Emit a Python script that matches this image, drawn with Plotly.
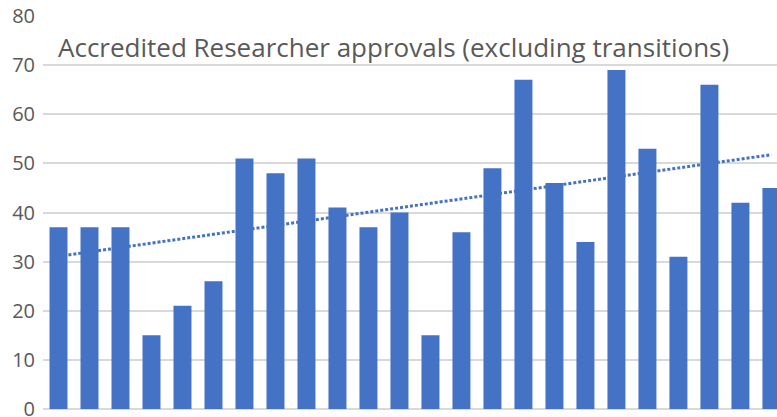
import numpy as np
import plotly.graph_objects as go

categories = [f"P{i}" for i in range(1, 25)]
approvals = [37, 37, 37, 15, 21, 26, 51, 48, 51, 41, 37, 40,
             15, 36, 49, 67, 46, 34, 69, 53, 31, 66, 42, 45]
y_ticks = [0, 10, 20, 30, 40, 50, 60, 70, 80]
title_text = "Accredited Researcher approvals (excluding transitions)"

idx = np.arange(len(approvals))
slope, intercept = np.polyfit(idx, approvals, 1)
trend = slope * idx + intercept

fig = go.Figure()
fig.add_trace(go.Bar(x=idx, y=approvals, marker_color="#4472C4",
                     marker_line_width=0, width=0.58))
fig.add_trace(go.Scatter(x=idx, y=trend, mode="lines",
                         line=dict(color="#4472C4", width=3, dash="3px,2px")))

fig.update_layout(
    width=777, height=417,
    margin=dict(l=43, r=0, t=16, b=8),
    paper_bgcolor="white", plot_bgcolor="white",
    showlegend=False,
    font=dict(family="Open Sans", color="#595959"),
    annotations=[dict(text=title_text, xref="paper", yref="paper",
                      x=0.018, y=0.921, xanchor="left", yanchor="middle",
                      showarrow=False, font=dict(size=26, color="#595959", family="Open Sans"))],
)
fig.update_xaxes(range=[-0.5, 23.18], showticklabels=False, showgrid=False,
                 zeroline=False, showline=False, ticks="", automargin=False)
fig.update_yaxes(range=[0, 80], tickvals=y_ticks, showgrid=True, gridcolor="#d9d9d9",
                 gridwidth=1.5, zeroline=True, zerolinecolor="#d9d9d9", zerolinewidth=2,
                 showline=False, ticks="", ticklabelstandoff=7, automargin=False,
                 ticklabeloverflow="allow",
                 tickfont=dict(size=20, color="#595959", family="Open Sans"))

fig.write_html("out.html", config={"displayModeBar": False},
               post_script="document.body.style.margin='0px';")
